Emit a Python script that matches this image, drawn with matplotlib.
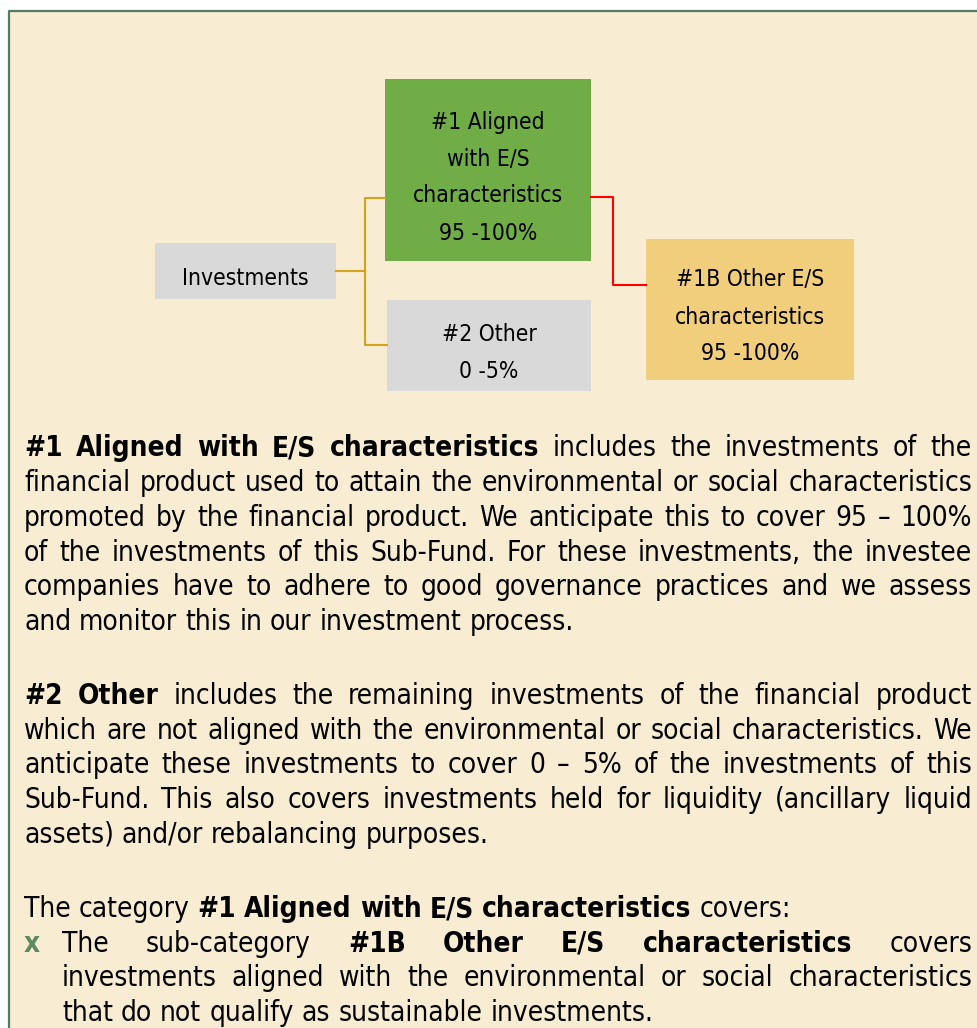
import matplotlib
matplotlib.use('Agg')
import matplotlib.pyplot as plt
from matplotlib import font_manager
from matplotlib.patches import Rectangle

W, H = 978, 1028

# diagram labels
root_label = 'Investments'
aligned_label = ['#1 Aligned', 'with E/S', 'characteristics']
aligned_share = '95 -100%'
other_label = ['#2 Other']
other_share = '0 -5%'
other_es_label = ['#1B Other E/S', 'characteristics']
other_es_share = '95 -100%'

# text below the diagram, one entry per printed line, ** marks bold
para1 = [
    '**#1 Aligned with E/S characteristics** includes the investments of the',
    'financial product used to attain the environmental or social characteristics',
    'promoted by the financial product. We anticipate this to cover 95 \u2013 100%',
    'of the investments of this Sub-Fund. For these investments, the investee',
    'companies have to adhere to good governance practices and we assess',
    'and monitor this in our investment process.',
]
para2 = [
    '**#2 Other** includes the remaining investments of the financial product',
    'which are not aligned with the environmental or social characteristics. We',
    'anticipate these investments to cover 0 \u2013 5% of the investments of this',
    'Sub-Fund. This also covers investments held for liquidity (ancillary liquid',
    'assets) and/or rebalancing purposes.',
]
para3_intro = 'The category **#1 Aligned with E/S characteristics** covers:'
bullet_lines = [
    'The sub-category **#1B Other E/S characteristics** covers',
    'investments aligned with the environmental or social characteristics',
    'that do not qualify as sustainable investments.',
]

bg = '#f8edd3'
border = '#527d5f'
green = '#70ad47'
grey = '#d9d9d9'
gold = '#f0ce7c'
gold_line = '#d6a21e'
red_line = '#ff0000'

# font: condensed DejaVu if it is there, otherwise Liberation Sans
names = {(f.name, f.stretch) for f in font_manager.fontManager.ttflist}
if ('DejaVu Sans', 'condensed') in names:
    fam, stretch = 'DejaVu Sans', 'condensed'
else:
    fam, stretch = 'Liberation Sans', 'normal'

fig = plt.figure(figsize=(W / 100, H / 100), dpi=100, facecolor='white')
ax = fig.add_axes([0, 0, 1, 1])
ax.set_xlim(0, W)
ax.set_ylim(H, 0)
ax.axis('off')
renderer = fig.canvas.get_renderer()

# panel background and border
ax.add_patch(Rectangle((9, 10.5), W, H, facecolor=bg, edgecolor='none'))
ax.plot([9, 9, W], [H, 10.5, 10.5], color=border, lw=1.6, solid_capstyle='butt')

fs = 20.5
box_fs = 16.4


def measure(s, bold, size):
    t = ax.text(0, 0, s, fontsize=size, family=fam, fontstretch=stretch,
                fontweight='bold' if bold else 'normal')
    w = t.get_window_extent(renderer).width
    t.remove()
    return w


def words_of(line):
    out = []
    for i, chunk in enumerate(line.split('**')):
        for w in chunk.split():
            out.append((w, i % 2 == 1))
    return out


# shrink the font if the justified lines would not fit
x_right = 972
space_w = measure('a a', False, fs) - measure('aa', False, fs)
widest = 0
for line, x0 in [(l, 24) for l in para1[:-1] + para2[:-1]] + [(l, 62) for l in bullet_lines[:-1]]:
    ws = words_of(line)
    nat = sum(measure(w, b, fs) for w, b in ws) + space_w * (len(ws) - 1)
    widest = max(widest, nat / (x_right - x0))
if widest > 0.99:
    fs = fs * 0.99 / widest
space_w = measure('a a', False, fs) - measure('aa', False, fs)


def draw_line(line, x0, y, justify):
    ws = words_of(line)
    widths = [measure(w, b, fs) for w, b in ws]
    gap = space_w
    if justify and len(ws) > 1:
        gap = (x_right - x0 - sum(widths)) / (len(ws) - 1)
    x = x0
    for (w, b), wd in zip(ws, widths):
        ax.text(x, y, w, fontsize=fs, family=fam, fontstretch=stretch,
                fontweight='bold' if b else 'normal', va='baseline', ha='left',
                color='black')
        x += wd + gap


step = 34.7
for i, line in enumerate(para1):
    draw_line(line, 24, 456.5 + i * step, i < len(para1) - 1)
for i, line in enumerate(para2):
    draw_line(line, 24, 704 + i * step, i < len(para2) - 1)
draw_line(para3_intro, 24, 917, False)
ax.text(24, 917 + step, 'x', fontsize=fs, family=fam, fontstretch=stretch,
        fontweight='bold', color='#5b8a64', va='baseline', ha='left')
for i, line in enumerate(bullet_lines):
    draw_line(line, 62, 917 + (i + 1) * step, i < len(bullet_lines) - 1)

# diagram boxes: (x0, y0, x1, y1), colour, lines
boxes = [
    ((155, 243, 336, 299), grey, [root_label]),
    ((385, 79, 591, 261), green, aligned_label + [aligned_share]),
    ((387, 300, 591, 391), grey, other_label + [other_share]),
    ((646, 239, 854, 380), gold, other_es_label + [other_es_share]),
]
for (x0, y0, x1, y1), col, lines in boxes:
    ax.add_patch(Rectangle((x0, y0), x1 - x0, y1 - y0, facecolor=col, edgecolor='none'))
    cx, cy = (x0 + x1) / 2, (y0 + y1) / 2
    n = len(lines)
    for i, s in enumerate(lines):
        ax.text(cx, cy + (i - (n - 1) / 2) * 37 + 14, s, fontsize=box_fs, family=fam,
                fontstretch=stretch, ha='center', va='baseline', color='black')

# connectors
ax.plot([336, 364.5], [271, 271], color=gold_line, lw=1.5)
ax.plot([385, 364.5, 364.5, 387], [197.5, 197.5, 345, 345], color=gold_line, lw=1.5)
ax.plot([591, 612.5, 612.5, 646], [196.5, 196.5, 285, 285], color=red_line, lw=1.5)

fig.savefig('out.png', dpi=100, facecolor='white')
